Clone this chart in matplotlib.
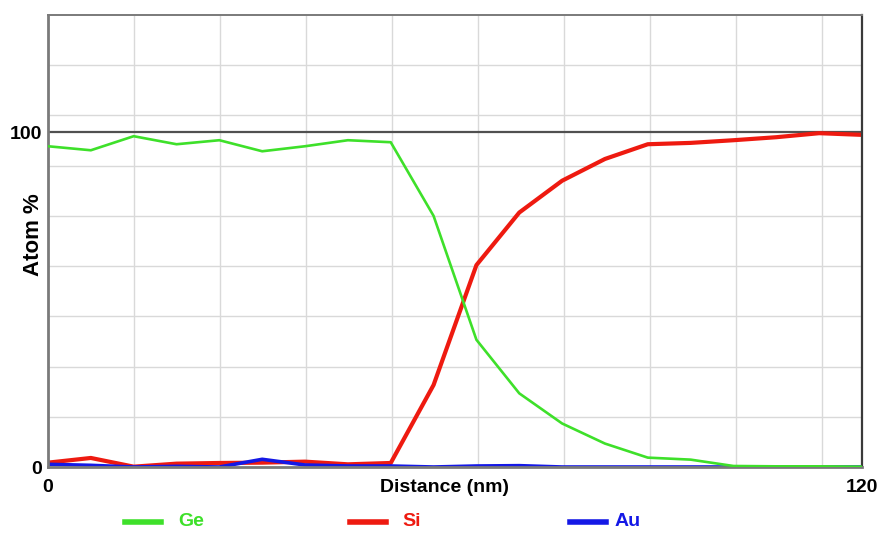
import numpy as np
import matplotlib
matplotlib.use("Agg")
import matplotlib.pyplot as plt
from matplotlib.lines import Line2D

# Composition profile across the Ge/Si interface (20 sample points, 0-120 nm)
distance_nm = np.linspace(0, 120, 20)
ge_pct = [95.8, 94.6, 98.8, 96.4, 97.6, 94.3, 95.8, 97.6, 97.0, 75.0,
          38.0, 22.0, 13.0, 7.0, 2.8, 2.2, 0.3, 0.2, 0.2, 0.1]
si_pct = [1.3, 2.7, 0.1, 1.0, 1.2, 1.3, 1.6, 0.8, 1.2, 24.5,
          60.3, 76.0, 85.5, 92.0, 96.4, 96.8, 97.6, 98.5, 99.7, 99.2]
au_pct = [0.8, 0.5, 0.0, 0.2, 0.0, 2.3, 0.6, 0.3, 0.3, 0.0,
          0.3, 0.4, 0.0, 0.0, 0.0, 0.0, 0.0, 0.0, 0.0, 0.0]

series_names = ["Ge", "Si", "Au"]
series_colors = ["#3ee02a", "#ee1a10", "#1418e6"]

x_ticks = [0, 120]
y_ticks = [0, 100]

plt.rcParams["font.family"] = ["Liberation Sans", "DejaVu Sans"]

W, H = 877, 533
fig = plt.figure(figsize=(W / 100, H / 100), dpi=100)
ax = fig.add_axes([48 / W, 66 / H, 814 / W, 452 / H])

ax.set_xlim(0, 120)
ax.set_ylim(0, 135)

# light grid
for gx in np.arange(1, 10) * 12.68:
    ax.axvline(gx, color="#d9d9d9", lw=1.0, zorder=0)
for gy in np.arange(15, 135, 15):
    ax.axhline(gy, color="#d9d9d9", lw=1.0, zorder=0)

# 100 % reference line
ax.axhline(100, color="#505050", lw=1.6, zorder=1)

ax.plot(distance_nm, si_pct, color=series_colors[1], lw=3.0, zorder=3)
ax.plot(distance_nm, au_pct, color=series_colors[2], lw=2.6, zorder=3)
ax.plot(distance_nm, ge_pct, color=series_colors[0], lw=1.9, zorder=4)

for side in ["left", "bottom", "top"]:
    ax.spines[side].set_color("#7a7a7a")
ax.spines["left"].set_linewidth(2.0)
ax.spines["bottom"].set_linewidth(2.0)
ax.spines["top"].set_linewidth(1.4)
ax.spines["right"].set_color("#3a3a3a")
ax.spines["right"].set_linewidth(1.6)
for s in ax.spines.values():
    s.set_zorder(3.5)

ax.set_xticks(x_ticks)
ax.set_xticklabels([str(v) for v in x_ticks], fontsize=14, fontweight="bold")
ax.set_yticks(y_ticks)
ax.set_yticklabels([str(v) for v in y_ticks], fontsize=14, fontweight="bold")
ax.tick_params(axis="x", length=0, pad=9)
ax.tick_params(axis="y", length=0, pad=4)

ax.set_xlabel("Distance (nm)", fontsize=14, fontweight="bold")
ax.xaxis.set_label_coords((444 - 48) / 814, (467 - 487) / 452)
ax.xaxis.label.set_verticalalignment("center")
ax.set_ylabel("Atom %", fontsize=16, fontweight="bold")
ax.yaxis.set_label_coords(-4 / 814, (467 - 235) / 452)

# legend row beneath the plot
legend_line_x = [125, 350, 570]
legend_text_x = [178, 402, 615]
legend_y = 522
for x0, xt, name, col in zip(legend_line_x, legend_text_x, series_names, series_colors):
    fig.add_artist(Line2D([x0 / W, (x0 + 36) / W], [1 - legend_y / H] * 2,
                          transform=fig.transFigure, color=col, lw=4.0))
    fig.text(xt / W, 1 - legend_y / H, name, color=col, fontsize=14,
             fontweight="bold", ha="left", va="center")

fig.savefig("out.png", dpi=100)
